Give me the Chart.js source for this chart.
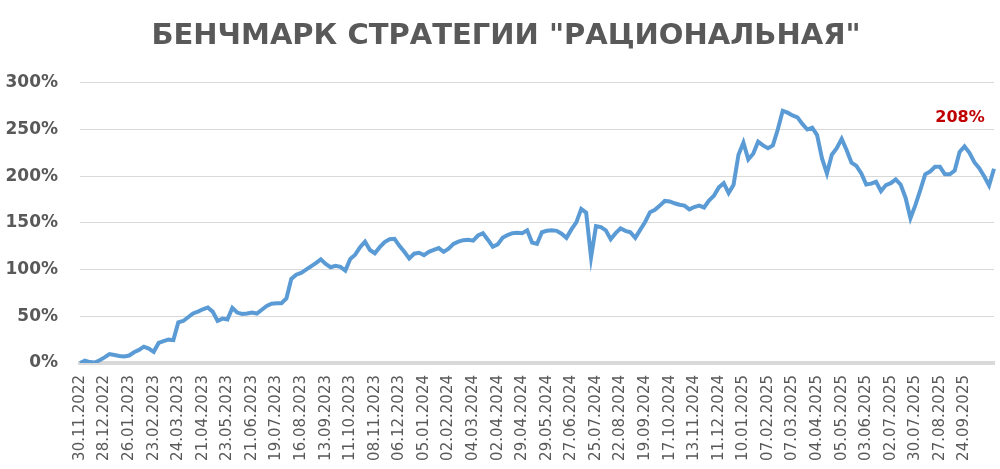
<!DOCTYPE html>
<html lang="ru">
<head>
<meta charset="utf-8">
<title>Бенчмарк стратегии "Рациональная"</title>
<script src="https://cdn.jsdelivr.net/npm/chart.js"></script>
<style>
  body{margin:0;background:#fff}
  #wrap{width:1000px;height:469px}
</style>
</head>
<body>
<div id="wrap"><canvas id="chart"></canvas></div>
<script>
// подписи оси X — каждые 20 торговых дней
const tickLabels = [
  '30.11.2022','28.12.2022','26.01.2023','23.02.2023','24.03.2023','21.04.2023',
  '23.05.2023','21.06.2023','19.07.2023','16.08.2023','13.09.2023','11.10.2023',
  '08.11.2023','06.12.2023','05.01.2024','02.02.2024','04.03.2024','02.04.2024',
  '29.04.2024','29.05.2024','27.06.2024','25.07.2024','22.08.2024','19.09.2024',
  '17.10.2024','13.11.2024','11.12.2024','10.01.2025','07.02.2025','07.03.2025',
  '04.04.2025','05.05.2025','03.06.2025','02.07.2025','30.07.2025','27.08.2025',
  '24.09.2025'
];
const pointsPerTick = 5; // одна точка ~ раз в 4 торговых дня

// доходность, %
const returns = [
  0, 2.5, 1, 0.5, 3, 6, 9.5, 8.5, 7.5, 7,
  8, 11.5, 14, 17.5, 15.5, 12, 21.5, 23.5, 25, 24.5,
  43.5, 45, 49, 53, 55, 57.5, 59.5, 55, 45, 47.5,
  46.5, 59, 54, 52.5, 53, 54, 53, 57, 61, 63.5,
  64, 64, 69, 90, 94.5, 96.5, 100, 103.5, 107, 111,
  106, 102.5, 104, 103, 99, 111.5, 116, 124, 130, 121,
  117.5, 124, 129.5, 132.5, 133, 125.5, 119, 112, 117, 118,
  115.5, 119, 121, 123, 119, 122.5, 127.5, 130, 131.5, 132,
  131, 136.5, 139, 132, 124.5, 127, 134, 137, 139, 139.5,
  139, 142, 129, 127.5, 140, 141.5, 142, 141.5, 138.5, 134,
  143, 150.5, 165, 161, 113, 146.5, 145.5, 142, 132.5, 139,
  144, 141.5, 140, 134, 142.5, 151, 161.5, 164, 168.5, 173.5,
  173, 171, 169.5, 168.5, 164.5, 167, 168.5, 166.5, 174, 179,
  188, 192.5, 182, 190.7, 223, 236, 218, 224, 237, 233,
  230, 233, 250, 270, 268, 265, 263, 256, 250, 252,
  244, 219, 203, 223, 230, 240, 228, 214.5, 211, 203,
  191, 192, 194, 184, 190.5, 192.5, 196.5, 191, 177, 155,
  169, 185, 202, 205, 210, 210, 202, 202, 206, 226,
  232, 225, 215, 208.5, 200, 190, 208
];

const yTicks = [0, 50, 100, 150, 200, 250, 300];

const labels = returns.map((v, i) => i % pointsPerTick === 0 ? (tickLabels[i / pointsPerTick] || '') : '');

const FONT = "'DejaVu Sans', sans-serif";
const GREY = '#595959';

// подпись последнего значения
const lastLabel = {
  id: 'lastLabel',
  afterLayout(chart){
    // заголовок чуть правее центра, как в оригинале
    chart.titleBlock.left += 18;
  },
  afterDatasetsDraw(chart){
    const meta = chart.getDatasetMeta(0);
    const pt = meta.data[meta.data.length - 1];
    const ctx = chart.ctx;
    ctx.save();
    ctx.font = "bold 16px " + FONT;
    ctx.fillStyle = '#c00000';
    ctx.textAlign = 'center';
    ctx.textBaseline = 'middle';
    ctx.fillText(returns[returns.length - 1] + '%', pt.x - 34, pt.y - 51);
    ctx.restore();
  }
};

new Chart(document.getElementById('chart'), {
  type: 'line',
  data: {
    labels,
    datasets: [{
      data: returns,
      borderColor: '#5b9bd5',
      borderWidth: 4,
      pointRadius: 0,
      tension: 0,
      fill: false
    }]
  },
  options: {
    responsive: true,
    maintainAspectRatio: false,
    animation: false,
    layout: { padding: { left: 0, right: 6, top: 0, bottom: 0 } },
    plugins: {
      legend: { display: false },
      tooltip: { enabled: false },
      title: {
        display: true,
        text: 'БЕНЧМАРК СТРАТЕГИИ "РАЦИОНАЛЬНАЯ"',
        color: GREY,
        font: { family: FONT, size: 29, weight: 'bold', lineHeight: 1.2 },
        padding: { top: 19, bottom: 29 }
      }
    },
    scales: {
      x: {
        grid: { display: false, drawTicks: false },
        border: { display: true, color: '#d9d9d9', width: 4 },
        ticks: {
          autoSkip: false,
          minRotation: 90,
          maxRotation: 90,
          padding: 12,
          color: GREY,
          font: { family: FONT, size: 15 },
          callback(v){ return this.getLabelForValue(v); }
        },
        afterFit(s){ s.height = 106; s.paddingLeft = 0; s.paddingRight = 0; }
      },
      y: {
        min: 0,
        max: 300,
        afterBuildTicks(s){ s.ticks = yTicks.map(v => ({ value: v })); },
        grid: { color: '#d9d9d9', lineWidth: 1, drawTicks: false },
        border: { display: false },
        ticks: {
          padding: 22,
          color: GREY,
          font: { family: FONT, size: 17, weight: 'bold' },
          callback(v){ return v + '%'; }
        },
        afterFit(s){ s.width = 80; }
      }
    }
  },
  plugins: [lastLabel]
});
</script>
</body>
</html>
